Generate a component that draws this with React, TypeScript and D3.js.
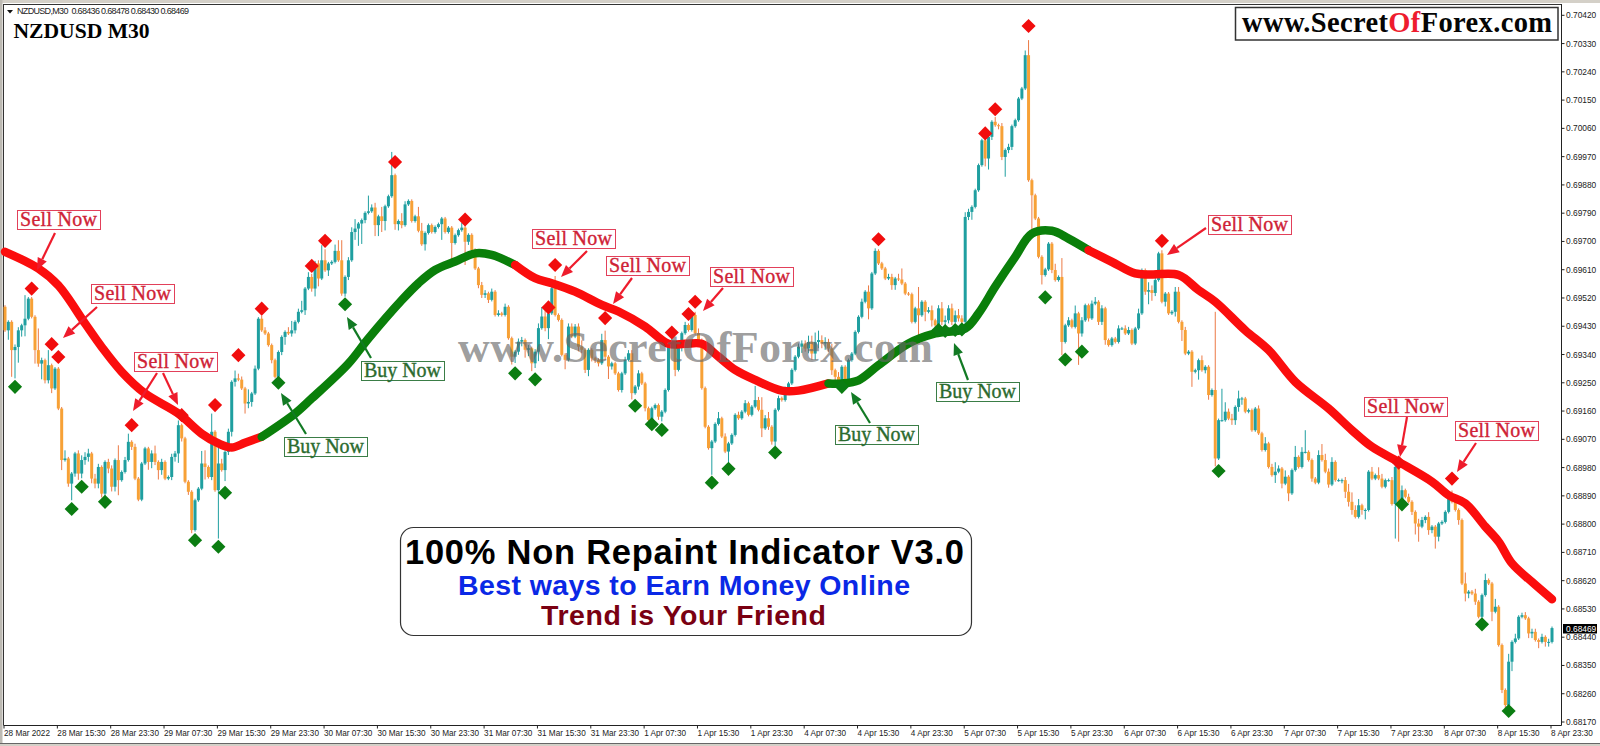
import React from "react";
import * as d3 from "d3";

// All price values are points above 0.68000 (1 point = 0.00001)
const firstOpen = 1492;
const closes = [
1417,1444,1354,1364,1417,1433,1454,1518,1460,1354,
1311,1322,1258,1306,1232,1295,1168,1004,1009,929,
961,1025,961,1004,1014,1025,945,929,982,897,
998,977,919,1004,940,966,1004,1062,1046,945,
878,993,1041,998,1025,998,972,998,945,950,
1014,1025,1115,1073,935,903,781,876,913,993,
982,950,1094,908,993,972,1030,1094,1253,1264,
1260,1232,1184,1189,1216,1295,1454,1417,1407,1370,
1322,1269,1348,1396,1412,1407,1417,1444,1476,1481,
1550,1587,1550,1630,1582,1640,1608,1630,1635,1670,
1640,1534,1587,1640,1730,1741,1757,1768,1791,1796,
1808,1752,1780,1765,1812,1844,1911,1755,1765,1752,
1818,1829,1765,1780,1734,1691,1727,1752,1730,1746,
1755,1773,1730,1744,1695,1720,1736,1744,1699,1721,
1673,1614,1561,1530,1535,1514,1540,1466,1471,1466,
1492,1392,1333,1349,1381,1386,1355,1360,1312,1349,
1424,1461,1424,1471,1551,1466,1450,1339,1323,1429,
1397,1429,1365,1355,1291,1355,1328,1323,1312,1386,
1333,1302,1312,1280,1227,1280,1323,1344,1217,1238,
1280,1248,1169,1132,1169,1179,1142,1158,1227,1365,
1376,1291,1365,1408,1434,1418,1466,1408,1386,1233,
1110,1042,1063,1119,1137,1079,1031,1057,1084,1148,
1137,1158,1185,1148,1174,1195,1164,1105,1137,1110,
1063,1164,1201,1195,1233,1248,1291,1333,1365,1375,
1359,1380,1343,1380,1386,1375,1380,1359,1290,1269,
1248,1301,1258,1322,1343,1412,1460,1508,1540,1487,
1598,1670,1630,1614,1582,1587,1561,1582,1579,1566,
1534,1532,1444,1487,1465,1508,1476,1481,1449,1433,
1487,1444,1449,1487,1444,1465,1455,1444,1778,1794,
1810,1863,1943,2022,1964,2033,2081,2070,2067,1969,
1991,2001,2067,2086,2155,2187,2293,1895,1847,1773,
1651,1593,1611,1693,1609,1577,1587,1380,1433,1449,
1428,1471,1407,1449,1497,1455,1502,1508,1444,1487,
1386,1370,1391,1380,1423,1423,1407,1418,1375,1423,
1471,1609,1540,1545,1536,1577,1662,1508,1534,1471,
1476,1540,1444,1418,1343,1349,1285,1290,1322,1290,
1301,1211,1227,1009,1131,1131,1158,1136,1131,1173,
1200,1200,1158,1163,1099,1168,1089,1036,1057,982,
956,967,977,929,951,898,972,1014,982,1030,
1030,1004,945,932,1020,1004,967,926,998,940,
940,940,903,871,845,823,860,845,845,967,
945,956,945,919,940,940,864,982,866,908,
887,871,839,802,792,813,823,781,792,760,
802,807,839,882,871,845,813,611,579,585,
579,553,505,574,622,611,521,537,415,272,
224,362,425,436,505,510,500,452,457,431,
425,441,425,425,469];

const upperWicks = [
5,5,5,8,10,5,75,5,5,5,
69,8,5,48,5,5,5,5,26,5,
5,5,10,15,15,15,5,15,10,5,
5,10,10,5,47,5,10,26,5,10,
5,5,5,5,10,25,5,10,5,5,
10,8,15,5,5,5,5,5,5,40,
42,5,58,5,50,15,5,10,5,25,
15,10,5,40,5,10,5,10,10,5,
5,5,5,5,5,15,30,5,10,30,
5,15,10,8,10,48,35,5,5,20,
34,64,5,10,15,30,5,5,5,50,
10,15,5,30,5,5,74,5,5,25,
10,5,5,5,30,25,5,5,5,5,
5,5,5,5,5,5,5,15,10,5,
5,5,5,10,10,5,10,5,10,5,
10,5,5,5,10,10,5,10,5,8,
15,30,35,30,15,39,5,5,5,10,
10,8,10,20,5,5,5,5,5,20,
30,5,5,5,5,5,10,10,10,5,
10,5,5,5,5,5,5,5,5,5,
20,5,5,5,10,5,5,10,15,5,
5,5,5,5,20,5,10,5,5,5,
10,5,10,5,5,45,10,40,10,20,
5,5,8,5,5,5,5,5,10,10,
10,20,20,30,30,15,15,10,15,5,
15,5,5,5,5,5,5,10,5,20,
5,8,5,5,5,10,10,5,15,35,
5,5,5,5,68,5,5,10,15,5,
10,20,15,10,15,15,20,10,15,10,
5,5,5,5,5,15,5,15,5,10,
5,10,5,5,5,5,15,48,5,5,
5,5,5,5,5,20,5,60,5,10,
5,25,5,10,5,5,10,15,5,10,
5,5,5,5,10,5,10,10,5,5,
15,5,5,25,15,10,5,10,5,5,
5,15,15,5,10,5,5,5,5,15,
5,5,5,249,5,100,30,10,15,5,
25,5,5,5,5,5,10,5,20,5,
10,30,10,5,20,5,5,35,5,15,
69,5,5,5,15,35,20,10,15,5,
5,5,10,25,30,15,20,5,5,5,
15,5,25,15,5,5,10,6,5,15,
5,10,5,5,15,10,5,15,5,5,
5,5,5,5,25,5,5,5,35,5,
5,15,5,5,20,5,5,25,5,5,
5,25,5,15,5,8,10,5,10,10,
5,10,5,10,5];

const lowerWicks = [
5,30,85,90,50,20,35,5,5,43,
10,50,10,10,15,5,5,32,5,10,
53,10,20,15,15,15,15,15,15,12,
15,15,15,15,48,5,5,5,10,5,
5,5,5,25,20,10,30,15,5,5,
10,15,30,10,5,10,10,5,5,5,
40,5,10,5,154,5,35,10,15,15,
5,5,32,15,15,5,5,5,5,5,
10,5,5,10,25,5,10,10,5,5,
15,5,10,25,25,5,5,18,5,5,
5,7,10,10,5,25,55,65,10,5,
5,35,35,35,30,5,5,18,20,10,
5,5,5,5,5,5,20,5,5,5,
5,50,5,5,55,5,5,5,74,10,
15,5,10,10,10,10,5,5,5,5,
5,5,25,20,10,15,25,20,25,15,
30,5,10,35,5,5,5,5,30,5,
5,5,15,10,10,20,10,10,10,5,
10,40,10,5,5,8,5,5,20,5,
10,5,10,5,5,5,10,15,5,5,
5,20,5,15,5,5,5,5,5,5,
5,5,85,5,5,5,5,37,5,5,
5,5,5,5,5,5,5,28,5,10,
10,15,5,5,5,5,5,5,5,20,
10,15,20,20,20,15,20,10,15,10,
15,15,15,5,5,5,5,5,5,35,
5,5,5,5,5,5,15,15,5,5,
5,5,5,5,90,5,30,5,20,10,
5,10,15,10,10,5,10,5,10,10,
25,5,5,5,25,35,10,5,10,10,
63,10,10,5,5,5,5,5,127,5,
5,30,5,5,10,5,5,42,5,5,
5,5,100,10,5,10,5,5,10,10,
15,5,5,5,5,5,5,5,5,5,
5,5,10,40,25,10,5,5,15,5,
5,15,5,35,5,5,48,5,30,5,
10,15,5,25,5,5,5,5,15,15,
15,20,5,5,5,5,5,5,5,5,
5,25,5,15,5,25,5,5,5,5,
5,5,10,5,5,5,5,10,5,5,
5,10,20,15,15,5,5,15,30,5,
5,5,5,5,5,5,5,110,122,5,
5,5,10,35,48,5,10,15,10,38,
15,5,5,5,5,5,15,5,25,15,
5,10,5,5,5,5,30,5,5,10,
10,5,30,5,5,5,5,15,15,5,
20,5,15,15,5];

// Trend line knots [bar, points], one list per colour run
const trendRedA: [number, number][] = [[0,1667],[10,1614],[16,1560],[24,1439],[29,1364],[35,1285],[42,1216],[52,1152],[59,1088],[64,1057],[68,1044],[72,1059],[77,1078]];
const trendGreenA: [number, number][] = [[77,1078],[87,1152],[92,1200],[103,1311],[109,1391],[119,1513],[124,1567],[129,1609],[135,1636],[141,1662],[146,1657],[153,1625]];
const trendRedB: [number, number][] = [[153,1625],[159,1583],[164,1567],[171,1540],[179,1498],[184,1477],[192,1429],[199,1374],[204,1374],[209,1374],[214,1333],[219,1291],[225,1259],[233,1225],[238,1225],[247,1248]];
const trendGreenB: [number, number][] = [[247,1248],[251,1248],[256,1258],[262,1306],[271,1375],[279,1407],[288,1423],[292,1471],[297,1556],[303,1651],[308,1725],[314,1734],[319,1709],[325,1672]];
const trendRedC: [number, number][] = [[325,1672],[332,1635],[339,1598],[344,1595],[352,1593],[358,1545],[363,1508],[372,1417],[379,1354],[387,1253],[397,1168],[404,1099],[410,1046],[418,998],[428,935],[433,892],[438,866],[444,792],[448,744],[452,675],[458,616],[464,561]];

const redDiamonds: [number, number][] = [[8,1550],[14,1373],[16,1332],[38,1115],[53,1147],[63,1179],[70,1338],[77,1486],[92,1622],[96,1702],[117,1953],[138,1770],[163,1490],[165,1625],[180,1456],[200,1410],[205,1469],[207,1508],[262,1707],[294,2044],[297,2121],[307,2386],[347,1702],[418,996],[434,945]];
const greenDiamonds: [number, number][] = [[3,1237],[20,848],[23,919],[30,871],[57,749],[64,728],[66,900],[82,1250],[102,1500],[153,1280],[159,1261],[189,1177],[194,1118],[197,1100],[212,932],[217,976],[231,1028],[251,1237],[280,1418],[282,1415],[285,1418],[287,1420],[312,1522],[318,1324],[323,1349],[364,969],[419,863],[443,481],[451,205]];

const priceTicks = [70420,70330,70240,70150,70060,69970,69880,69790,69700,69610,69520,69430,69340,69250,69160,69070,68980,68890,68800,68710,68620,68530,68440,68350,68260,68170];
const timeLabels = ["28 Mar 2022","28 Mar 15:30","28 Mar 23:30","29 Mar 07:30","29 Mar 15:30","29 Mar 23:30","30 Mar 07:30","30 Mar 15:30","30 Mar 23:30","31 Mar 07:30","31 Mar 15:30","31 Mar 23:30","1 Apr 07:30","1 Apr 15:30","1 Apr 23:30","4 Apr 07:30","4 Apr 15:30","4 Apr 23:30","5 Apr 07:30","5 Apr 15:30","5 Apr 23:30","6 Apr 07:30","6 Apr 15:30","6 Apr 23:30","7 Apr 07:30","7 Apr 15:30","7 Apr 23:30","8 Apr 07:30","8 Apr 15:30","8 Apr 23:30"];
const barsPerTick = 16;
const lastPrice = "0.68469";
const quoteLine = "NZDUSD,M30  0.68436 0.68478 0.68430 0.68469";

// Callouts: box left/top, then arrows as x1,y1,x2,y2 (page pixels of the annotation layer)
type Callout = { text: string; sell: boolean; x: number; y: number; arrows: number[][] };
const callouts: Callout[] = [
  { text: "Sell Now", sell: true, x: 17, y: 210, arrows: [[55, 233, 37, 270]] },
  { text: "Sell Now", sell: true, x: 91, y: 284, arrows: [[97, 307, 63, 338]] },
  { text: "Sell Now", sell: true, x: 134, y: 352, arrows: [[157, 373, 133, 411], [163, 373, 178, 405]] },
  { text: "Sell Now", sell: true, x: 532, y: 229, arrows: [[587, 251, 561, 277]] },
  { text: "Sell Now", sell: true, x: 606, y: 256, arrows: [[632, 278, 613, 304]] },
  { text: "Sell Now", sell: true, x: 710, y: 267, arrows: [[723, 288, 703, 311]] },
  { text: "Sell Now", sell: true, x: 1208, y: 215, arrows: [[1206, 228, 1167, 255]] },
  { text: "Sell Now", sell: true, x: 1364, y: 397, arrows: [[1407, 417, 1400, 457]] },
  { text: "Sell Now", sell: true, x: 1455, y: 421, arrows: [[1476, 443, 1457, 472]] },
  { text: "Buy Now", sell: false, x: 284, y: 437, arrows: [[306, 434, 281, 393]] },
  { text: "Buy Now", sell: false, x: 361, y: 361, arrows: [[371, 358, 347, 317]] },
  { text: "Buy Now", sell: false, x: 835, y: 425, arrows: [[870, 423, 851, 392]] },
  { text: "Buy Now", sell: false, x: 936, y: 382, arrows: [[968, 380, 954, 343]] },
];

const W = 1600, H = 746;
const x = d3.scaleLinear().domain([0, 464]).range([5, 1552]);
const y = d3.scaleLinear().domain([170, 2420]).range([722, 15.3]);
const TEAL = "#1f9fa0", ORANGE = "#f7a136", WICK = "#ec7a45";
const serif = "'Liberation Serif', serif";
const sans = "'Liberation Sans', sans-serif";

const bars = closes.map((c, i) => {
  const o = i === 0 ? firstOpen : closes[i - 1];
  return { i, o, c, h: Math.max(o, c) + upperWicks[i], l: Math.min(o, c) - lowerWicks[i] };
});
const trendLine = d3.line<[number, number]>().x(d => x(d[0])).y(d => y(d[1])).curve(d3.curveCatmullRom.alpha(0.5));
const trendRuns: [string, [number, number][]][] = [["#fb0d0d", trendRedA], ["#0a7f0a", trendGreenA], ["#fb0d0d", trendRedB], ["#0a7f0a", trendGreenB], ["#fb0d0d", trendRedC]];
const diamond = d3.symbol().type(d3.symbolSquare).size(100)();

function CalloutMark({ c }: { c: Callout }) {
  const col = c.sell ? "#ee1c2c" : "#127a24";
  const textCol = c.sell ? "#cf2236" : "#2b6b2f";
  const border = c.sell ? "#e2405a" : "#3a7d46";
  return (
    <g>
      <rect x={c.x + 0.5} y={c.y + 0.5} width={83} height={19} fill="#fff" stroke={border} strokeWidth={1} />
      <text x={c.x + 3} y={c.y + 15.5} fontFamily={serif} fontSize={20} fill={textCol} stroke={textCol} strokeWidth={0.35} textLength={77} lengthAdjust="spacing">{c.text}</text>
      {c.arrows.map((a, i) => {
        const ang = Math.atan2(a[3] - a[1], a[2] - a[0]);
        const hl = 12, hw = 5;
        const bx = a[2] - hl * Math.cos(ang), by = a[3] - hl * Math.sin(ang);
        const nx = -Math.sin(ang) * hw, ny = Math.cos(ang) * hw;
        return (
          <g key={i}>
            <line x1={a[0]} y1={a[1]} x2={bx} y2={by} stroke={col} strokeWidth={2.2} />
            <polygon points={`${a[2]},${a[3]} ${bx + nx},${by + ny} ${bx - nx},${by - ny}`} fill={col} />
          </g>
        );
      })}
    </g>
  );
}

export default function App() {
  return (
    <svg width={W} height={H} viewBox={`0 0 ${W} ${H}`} style={{ position: "fixed", left: 0, top: 0, display: "block", background: "#fff" }}>
      {/* window chrome */}
      <rect x={0} y={0} width={W} height={3} fill="#d4d0c8" />
      <rect x={0} y={0} width={2.5} height={H} fill="#bdbab3" />
      <line x1={3.5} y1={4.5} x2={1561.5} y2={4.5} stroke="#333" />
      <line x1={3.5} y1={4} x2={3.5} y2={725} stroke="#333" />
      <line x1={1561.5} y1={4} x2={1561.5} y2={725.5} stroke="#222" />
      <line x1={3.5} y1={725.5} x2={1561.5} y2={725.5} stroke="#222" />
      <rect x={0} y={743} width={W} height={3} fill="#d4d0c8" />
      <line x1={0} y1={743.5} x2={W} y2={743.5} stroke="#666" />

      {/* axes */}
      {priceTicks.map(p => {
        const yy = y(p - 68000);
        return (
          <g key={p}>
            <line x1={1561} x2={1564.5} y1={yy} y2={yy} stroke="#222" />
            <text x={1566} y={yy + 3} fontFamily={sans} fontSize={8.4} fill="#222">{(p / 100000).toFixed(5)}</text>
          </g>
        );
      })}
      {timeLabels.map((t, i) => {
        const xx = x(i * barsPerTick) - 1;
        return (
          <g key={t}>
            <line x1={xx} x2={xx} y1={725} y2={728.5} stroke="#222" />
            <text x={xx} y={736} fontFamily={sans} fontSize={8.2} fill="#222">{t}</text>
          </g>
        );
      })}
      <rect x={1563} y={624} width={34} height={9.5} fill="#000" />
      <text x={1566} y={632} fontFamily={sans} fontSize={8.4} fill="#fff">{lastPrice}</text>

      {/* candles */}
      <g>
        {bars.map(b => {
          const up = b.c >= b.o;
          const top = y(Math.max(b.o, b.c)), bot = y(Math.min(b.o, b.c));
          return (
            <g key={b.i}>
              <line x1={x(b.i)} x2={x(b.i)} y1={y(b.h)} y2={y(b.l)} stroke={up ? TEAL : WICK} strokeWidth={1} />
              <rect x={x(b.i) - 1.5} width={3} y={top} height={Math.max(bot - top, 1)} fill={up ? TEAL : ORANGE} />
            </g>
          );
        })}
      </g>

      {/* trend line */}
      {trendRuns.map(([col, pts], i) => (
        <path key={i} d={trendLine(pts) as string} fill="none" stroke={col} strokeWidth={8.5} strokeLinecap="round" strokeLinejoin="round" />
      ))}

      {/* watermark */}
      <text x={458} y={362} fontFamily={serif} fontWeight={700} fontSize={44} fill="#666" fillOpacity={0.65} textLength={475} lengthAdjust="spacing">www.SecretOfForex.com</text>

      {/* signals */}
      {redDiamonds.map(([b, v]) => <path key={"r" + b} d={diamond as string} fill="#f10d0d" transform={`translate(${x(b)},${y(v)}) rotate(45)`} />)}
      {greenDiamonds.map(([b, v]) => <path key={"g" + b} d={diamond as string} fill="#0b7d12" transform={`translate(${x(b)},${y(v)}) rotate(45)`} />)}

      {/* callouts */}
      {callouts.map((c, i) => <CalloutMark key={i} c={c} />)}

      {/* header */}
      <path d="M7 10 L13 10 L10 13.5 Z" fill="#111" />
      <text x={17} y={14} fontFamily={sans} fontSize={9} fill="#222" xmlSpace="preserve" textLength={172} lengthAdjust="spacing">{quoteLine}</text>
      <text x={13.5} y={38} fontFamily={serif} fontWeight={700} fontSize={21.6} fill="#000">NZDUSD M30</text>

      {/* logo */}
      <rect x={1235.5} y={7.5} width={322.5} height={32.5} fill="#fff" stroke="#333" strokeWidth={1.5} />
      <text x={1242} y={32} fontFamily={serif} fontWeight={700} fontSize={28.5} fill="#050505" textLength={310} lengthAdjust="spacing">
        www.Secret<tspan fill="#ee1c2e">Of</tspan>Forex.com
      </text>

      {/* info panel */}
      <rect x={400.5} y={527.5} width={571} height={108} rx={13} fill="#fff" stroke="#333" strokeWidth={1.2} />
      <text x={405} y={564} fontFamily={sans} fontWeight={700} fontSize={34.5} fill="#000" textLength={559} lengthAdjust="spacing">100% Non Repaint Indicator V3.0</text>
      <text x={458} y={595} fontFamily={sans} fontWeight={700} fontSize={28.5} fill="#0a28e6" textLength={452} lengthAdjust="spacing">Best ways to Earn Money Online</text>
      <text x={541} y={625} fontFamily={sans} fontWeight={700} fontSize={28.5} fill="#7a0012" textLength={285} lengthAdjust="spacing">Trend is Your Friend</text>
    </svg>
  );
}
